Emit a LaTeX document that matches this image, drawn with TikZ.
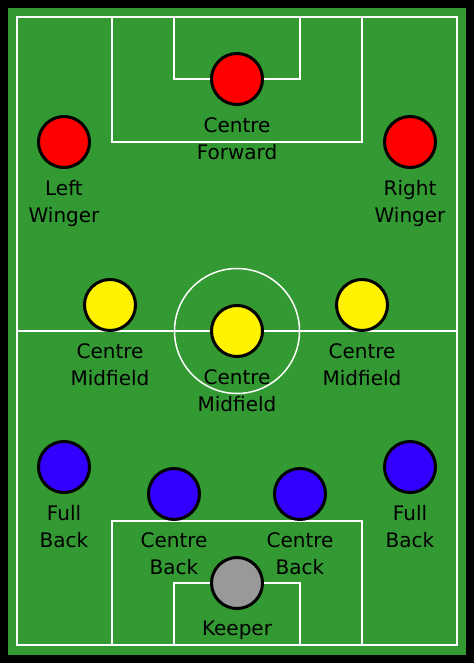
\documentclass[tikz,border=0pt]{standalone}
\usepackage{fontspec}
\setmainfont{DejaVu Sans}
\usetikzlibrary{positioning}
\definecolor{pitch}{RGB}{51,153,51}
\definecolor{bluep}{RGB}{51,0,255}
\definecolor{greyp}{RGB}{153,153,153}
\tikzset{
  player/.style={circle, draw=black, line width=3pt, minimum size=51pt, inner sep=0pt, fill=#1},
  role/.style={inner sep=0pt, align=center, font=\fontsize{20}{27}\selectfont},
  markings/.style={draw=white, line width=1.5pt}
}
\begin{document}
\begin{tikzpicture}[x=1pt, y=-1pt]
  \fill[black](0,0) rectangle (474,663);
  \fill[pitch](8,8) rectangle (466,655);

  % pitch markings
  \draw[markings](17,17) rectangle (457,645);
  \draw[markings](112,17) rectangle (362,142);
  \draw[markings](174,17) rectangle (300,79);
  \draw[markings](112,521) rectangle (362,645);
  \draw[markings](174,583) rectangle (300,645);
  \draw[markings](17,331)--(457,331);
  \draw[markings](237,331) circle[radius=62.5pt];

  % forwards
  \node[player=red] (cf) at (237,79) {};
  \node[player=red] (lw) at (64,142) {};
  \node[player=red] (rw) at (410,142) {};
  \node[role, below=11pt of cf]{Centre\\Forward};
  \node[role, below=11pt of lw]{Left\\Winger};
  \node[role, below=11pt of rw]{Right\\Winger};

  % midfield
  \node[player=yellow] (lm) at (110,305) {};
  \node[player=yellow] (cm) at (237,331) {};
  \node[player=yellow] (rm) at (362,305) {};
  \node[role, below=11pt of lm]{Centre\\Midfield};
  \node[role, below=11pt of cm]{Centre\\Midfield};
  \node[role, below=11pt of rm]{Centre\\Midfield};

  % defence
  \node[player=bluep] (lb) at (64,467) {};
  \node[player=bluep] (lcb) at (174,494) {};
  \node[player=bluep] (rcb) at (300,494) {};
  \node[player=bluep] (rb) at (410,467) {};
  \node[role, below=11pt of lb]{Full\\Back};
  \node[role, below=11pt of lcb]{Centre\\Back};
  \node[role, below=11pt of rcb]{Centre\\Back};
  \node[role, below=11pt of rb]{Full\\Back};

  \node[player=greyp] (gk) at (237,583) {};
  \node[role, below=11pt of gk]{Keeper};
\end{tikzpicture}
\end{document}
